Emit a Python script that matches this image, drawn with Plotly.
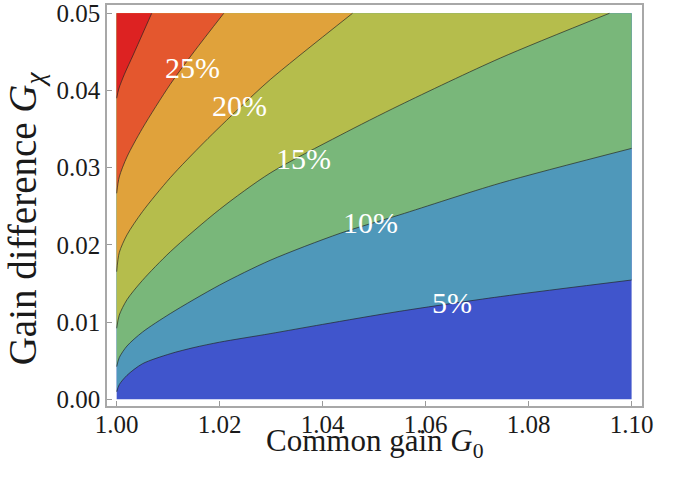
import plotly.graph_objects as go

# ---------------- data ----------------
x_ticks = [1.00, 1.02, 1.04, 1.06, 1.08, 1.10]
x_tick_text = ["1.00", "1.02", "1.04", "1.06", "1.08", "1.10"]
y_ticks = [0.00, 0.01, 0.02, 0.03, 0.04, 0.05]
y_tick_text = ["0.00", "0.01", "0.02", "0.03", "0.04", "0.05"]

levels = ["5%", "10%", "15%", "20%", "25%", "30%"]

# contour lines: common gain G0 (x) and gain difference Gx (y)
c05_g0 = [1.0, 1.0005, 1.002, 1.005, 1.0104, 1.015, 1.02, 1.0298, 1.04, 1.055, 1.0745, 1.1]
c05_gx = [0.00098, 0.0019, 0.0031, 0.0046, 0.0059, 0.0067, 0.0074, 0.0085, 0.0097, 0.0114, 0.0133, 0.01545]

c10_g0 = [1.0, 1.0005, 1.002, 1.005, 1.0104, 1.02, 1.0298, 1.0434, 1.055, 1.0745, 1.1]
c10_gx = [0.00423, 0.0054, 0.0069, 0.0087, 0.0111, 0.0148, 0.0180, 0.0215, 0.0239, 0.0280, 0.0325]

c15_g0 = [1.0, 1.0005, 1.002, 1.005, 1.0104, 1.02, 1.0298, 1.0434, 1.055, 1.0745, 1.0957]
c15_gx = [0.0092, 0.0109, 0.0129, 0.0154, 0.0191, 0.0246, 0.0293, 0.0342, 0.0381, 0.0442, 0.05]

c20_g0 = [1.0, 1.0005, 1.002, 1.005, 1.0104, 1.017, 1.0238, 1.0298, 1.0458]
c20_gx = [0.01653, 0.0190, 0.0213, 0.0243, 0.0287, 0.0333, 0.0377, 0.0414, 0.05]

c25_g0 = [1.0, 1.0005, 1.002, 1.005, 1.0104, 1.015, 1.0208]
c25_gx = [0.02668, 0.0288, 0.0314, 0.0351, 0.0408, 0.0450, 0.05]

c30_g0 = [1.0, 1.0004, 1.0015, 1.0032, 1.0050, 1.0068]
c30_gx = [0.0390, 0.0402, 0.0421, 0.0446, 0.0473, 0.05]

# label positions (on the contour lines)
label_g0 = [1.0651, 1.0492, 1.0362, 1.0238, 1.0148]
label_gx = [0.01234, 0.02258, 0.03087, 0.03786, 0.04272]
label_text = ["5%", "10%", "15%", "20%", "25%"]

x_title = "Common gain <i>G</i><sub>0</sub>"
y_title = "Gain difference <i>G</i><sub><i>χ</i></sub>"

# ---------------- styling ----------------
band_colors = ["#4055CC", "#4F98BA", "#79B77A", "#B5BD4C", "#E0A23B", "#E4572E", "#DD2222"]
line_color = "rgba(35,35,35,0.75)"
serif = "Liberation Serif"
text_color = "#1a1a1a"

contours = [(c05_g0, c05_gx), (c10_g0, c10_gx), (c15_g0, c15_gx),
            (c20_g0, c20_gx), (c25_g0, c25_gx), (c30_g0, c30_gx)]

x0, x1 = x_ticks[0], x_ticks[-1]
y0, y1 = y_ticks[0], y_ticks[-1]

fig = go.Figure()

# lowest band: whole data rectangle
fig.add_trace(go.Scatter(x=[x0, x1], y=[y1, y1], mode="lines", fill="tozeroy",
                         fillcolor=band_colors[0], line=dict(width=0),
                         hoverinfo="skip", showlegend=False))

# each band above a contour
for k, (gs, xs) in enumerate(contours):
    fig.add_trace(go.Scatter(x=[x0, x1], y=[y1, y1], mode="lines", line=dict(width=0),
                             hoverinfo="skip", showlegend=False))
    fig.add_trace(go.Scatter(x=gs, y=xs, mode="lines", fill="tonexty",
                             fillcolor=band_colors[k + 1],
                             line=dict(width=0, shape="spline", smoothing=0.8),
                             hoverinfo="skip", showlegend=False))

# contour lines
for k, (gs, xs) in enumerate(contours):
    fig.add_trace(go.Scatter(x=gs, y=xs, mode="lines", name=levels[k],
                             line=dict(color=line_color, width=0.9, shape="spline", smoothing=0.8),
                             showlegend=False))

for g, v, t in zip(label_g0, label_gx, label_text):
    fig.add_annotation(x=g, y=v, text=t, showarrow=False, yshift=2,
                       font=dict(family=serif, size=30, color="white"))

# axis titles
fig.add_annotation(x=0.5, y=-0.0935, xref="paper", yref="paper", text=x_title,
                   showarrow=False, xanchor="center", yanchor="middle",
                   font=dict(family=serif, size=31, color=text_color))
fig.add_annotation(x=-0.1533, y=0.468, xref="paper", yref="paper", text=y_title,
                   showarrow=False, xanchor="center", yanchor="middle", textangle=-90,
                   font=dict(family=serif, size=39, color=text_color))

xspan = x1 - x0
yspan = y1 - y0
axis_common = dict(showgrid=False, zeroline=False, showline=True, mirror=True,
                   linecolor="#a8a8a8", linewidth=1.5, ticks="inside", ticklen=5,
                   tickwidth=1, tickcolor="#9a9a9a", automargin=False,
                   ticklabeloverflow="allow",
                   tickfont=dict(family=serif, size=25, color=text_color))

fig.update_layout(
    width=694, height=485,
    margin=dict(l=107, r=52, t=5, b=79),
    paper_bgcolor="white", plot_bgcolor="white",
    xaxis=dict(range=[x0 - 0.0188 * xspan, x1 + 0.0202 * xspan],
               tickvals=x_ticks, ticktext=x_tick_text, ticklabelstandoff=-5,
               **axis_common),
    yaxis=dict(range=[y0 - 0.0174 * yspan, y1 + 0.0215 * yspan],
               tickvals=y_ticks, ticktext=y_tick_text, ticklabelstandoff=0,
               **axis_common),
)

fig.write_html("out.html", config={"displayModeBar": False},
               post_script="document.body.style.margin='0px';document.body.style.overflow='hidden';")
